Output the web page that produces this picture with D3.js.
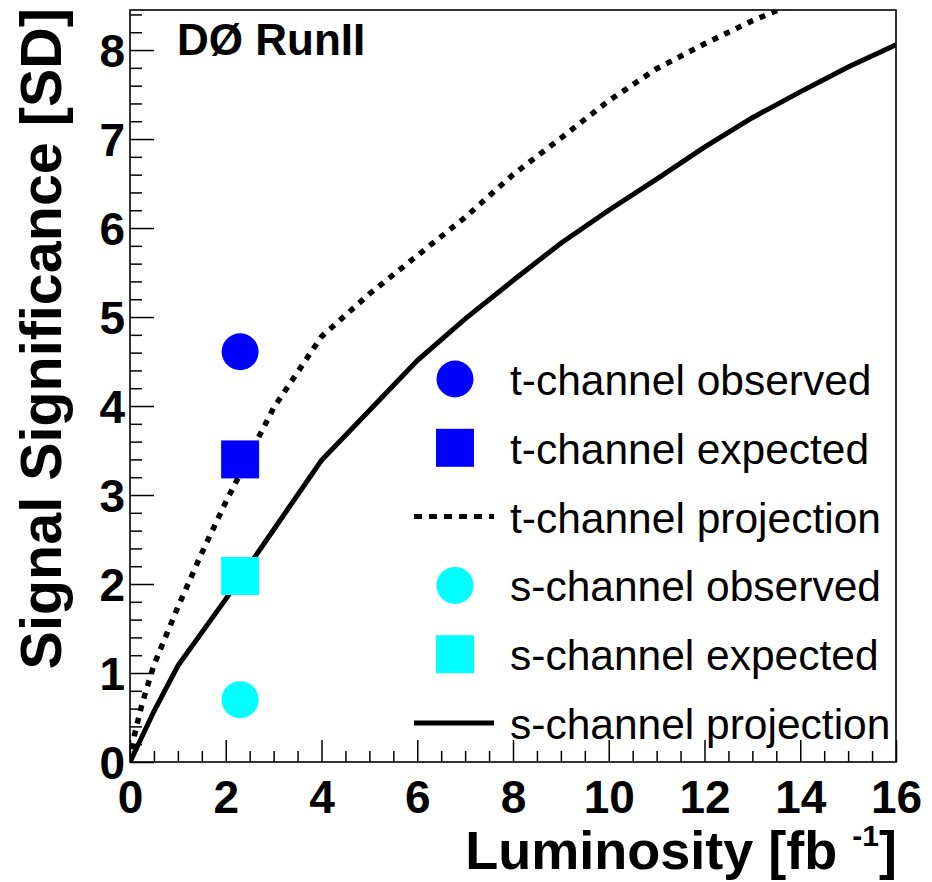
<!DOCTYPE html>
<html>
<head>
<meta charset="utf-8">
<script src="https://cdn.jsdelivr.net/npm/d3@7"></script>
<style>
  html, body { margin: 0; padding: 0; background: #fff; }
  svg { display: block; font-family: "Liberation Sans", Arial, Helvetica, sans-serif; }
</style>
</head>
<body>
<svg id="chart" width="932" height="882"></svg>
<script>
// ---- data ----
const sLumi = [0, 0.5, 1, 2, 3, 4, 5, 6, 7, 8, 9, 10, 11, 12, 13, 14, 15, 16];
const sProjection = [0, 0.57, 1.08, 1.83, 2.61, 3.39, 3.95, 4.51, 4.98, 5.41, 5.83, 6.20, 6.55, 6.91, 7.24, 7.53, 7.81, 8.06];
const tLumi = [0, 0.1, 0.25, 0.5, 1, 1.5, 2, 3, 4, 5, 6, 7, 8, 9, 10, 11, 12, 13, 14];
const tProjection = [0, 0.32, 0.65, 1.09, 1.74, 2.35, 2.92, 3.98, 4.78, 5.26, 5.69, 6.12, 6.60, 7.01, 7.43, 7.79, 8.07, 8.33, 8.55];
const pointNames = ["t-channel observed", "t-channel expected", "s-channel expected", "s-channel observed"];
const pointLumi = [2.3, 2.3, 2.3, 2.3];
const pointSig = [4.61, 3.40, 2.09, 0.70];
const pointShape = ["circle", "square", "square", "circle"];
const pointColor = ["#0000ff", "#0000ff", "#00ffff", "#00ffff"];
const legendLabels = ["t-channel observed", "t-channel expected", "t-channel projection", "s-channel observed", "s-channel expected", "s-channel projection"];
const legendKinds = ["circle", "square", "dotted", "circle", "square", "solid"];
const legendColors = ["#0000ff", "#0000ff", "#000", "#00ffff", "#00ffff", "#000"];
const xMajorTicks = [0, 2, 4, 6, 8, 10, 12, 14, 16];
const yMajorTicks = [0, 1, 2, 3, 4, 5, 6, 7, 8];

// ---- layout ----
const L = 130, R = 896, T = 10, B = 762;
const svg = d3.select("#chart");
const x = d3.scaleLinear().domain([0, 16]).range([L, R]);
const y = d3.scaleLinear().domain([0, 8.45]).range([B, T]);

svg.append("defs").append("clipPath").attr("id", "clip")
  .append("rect").attr("x", L).attr("y", T).attr("width", R - L).attr("height", B - T);

// minor ticks
const xMinor = d3.range(0, 16.001, 0.5).filter(v => Math.abs(v / 2 - Math.round(v / 2)) > 1e-6);
const yMinor = d3.range(0, 8.45, 0.2).filter(v => Math.abs(v - Math.round(v)) > 1e-6);

const gxMinor = svg.append("g").attr("transform", `translate(0,${B})`)
  .call(d3.axisBottom(x).tickValues(xMinor).tickSize(-11).tickFormat(""));
const gyMinor = svg.append("g").attr("transform", `translate(${L},0)`)
  .call(d3.axisLeft(y).tickValues(yMinor).tickSize(-12).tickFormat(""));

const gx = svg.append("g").attr("transform", `translate(0,${B})`)
  .call(d3.axisBottom(x).tickValues(xMajorTicks).tickSize(-22).tickPadding(18).tickFormat(d3.format("d")));
const gy = svg.append("g").attr("transform", `translate(${L},0)`)
  .call(d3.axisLeft(y).tickValues(yMajorTicks).tickSize(-24).tickPadding(5).tickFormat(d3.format("d")));

[gxMinor, gyMinor, gx, gy].forEach(g => {
  g.select(".domain").remove();
  g.selectAll(".tick line").attr("stroke", "#000").attr("stroke-width", 1.5);
});
[gx, gy].forEach(g => {
  g.selectAll(".tick text").attr("font-size", 46).attr("font-weight", "bold")
    .attr("font-family", "Liberation Sans, Arial, sans-serif").attr("fill", "#000");
});
gy.selectAll(".tick text").attr("dy", "0.36em");

// frame
svg.append("rect").attr("x", L).attr("y", T).attr("width", R - L).attr("height", B - T)
  .attr("fill", "none").attr("stroke", "#000").attr("stroke-width", 1.6);

// curves
const lineGen = d3.line().x(d => x(d[0])).y(d => y(d[1]));
const plot = svg.append("g").attr("clip-path", "url(#clip)");
plot.append("path").datum(tLumi.map((v, i) => [v, tProjection[i]]))
  .attr("d", lineGen).attr("fill", "none").attr("stroke", "#000")
  .attr("stroke-width", 5.5).attr("stroke-dasharray", "6 7");
plot.append("path").datum(sLumi.map((v, i) => [v, sProjection[i]]))
  .attr("d", lineGen).attr("fill", "none").attr("stroke", "#000")
  .attr("stroke-width", 5);

// points
function marker(g, kind, cx, cy, color) {
  if (kind === "circle") {
    g.append("circle").attr("cx", cx).attr("cy", cy).attr("r", 18.5).attr("fill", color);
  } else {
    g.append("rect").attr("x", cx - 19).attr("y", cy - 19).attr("width", 38).attr("height", 38).attr("fill", color);
  }
}
const pts = svg.append("g");
pointLumi.forEach((v, i) => marker(pts, pointShape[i], x(v), y(pointSig[i]), pointColor[i]));

// legend
const legY = d3.scaleLinear().domain([0, 5]).range([379, 723]);
const leg = svg.append("g");
legendLabels.forEach((lab, i) => {
  const cy = legY(i);
  const k = legendKinds[i];
  if (k === "circle" || k === "square") {
    marker(leg, k, 455, cy, legendColors[i]);
  } else {
    leg.append("line").attr("x1", 414).attr("x2", 494).attr("y1", cy).attr("y2", cy)
      .attr("stroke", "#000").attr("stroke-width", 5)
      .attr("stroke-dasharray", k === "dotted" ? "8 7" : null);
  }
  leg.append("text").attr("x", 510).attr("y", cy + 16).attr("font-size", 42.5)
    .attr("fill", "#000").text(lab);
});

// title text
svg.append("text").attr("x", 177).attr("y", 55).attr("font-size", 44).attr("font-weight", "bold")
  .text("DØ RunII");

// axis titles
const xt = svg.append("text").attr("x", 897).attr("y", 869).attr("text-anchor", "end")
  .attr("font-size", 54).attr("font-weight", "bold");
xt.append("tspan").text("Luminosity [fb ");
xt.append("tspan").attr("font-size", 30).attr("dy", -23).text("-1");
xt.append("tspan").attr("dy", 23).text("]");

svg.append("text").attr("transform", "translate(61,8) rotate(-90)").attr("text-anchor", "end")
  .attr("font-size", 57.5).attr("font-weight", "bold").text("Signal Significance [SD]");
</script>
</body>
</html>
